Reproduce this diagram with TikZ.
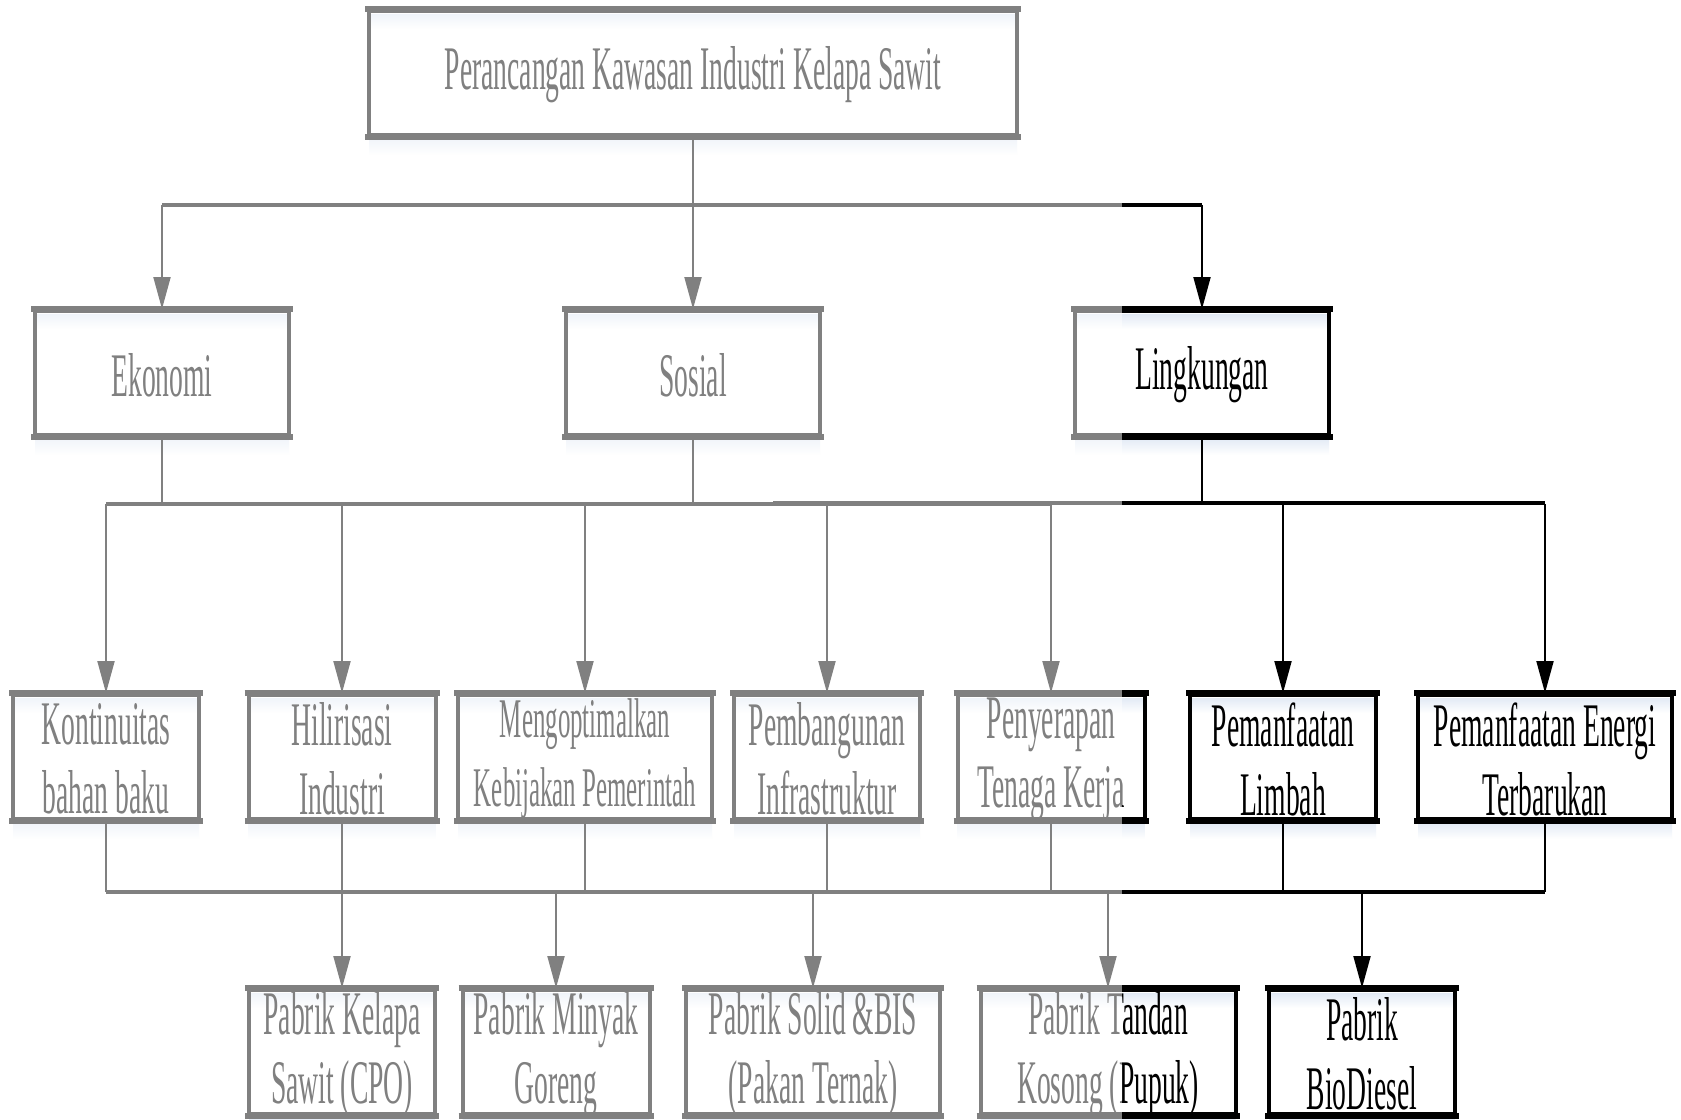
\documentclass[tikz,border=0pt]{standalone}
\usepackage{fontspec}
\setmainfont{Liberation Serif}[FakeStretch=0.445]
\usetikzlibrary{arrows.meta}
\definecolor{shd}{RGB}{226,234,245}

% #1 name, #2 centre x, #3 centre y, #4 width (px), #5 text style, #6 text
\newcommand\bx[6]{%
  \shade[top color=shd, bottom color=white]
    ({#2-#4/2+2},{#3-59}) rectangle ({#2+#4/2-2},{#3-44});
  \shade[top color=shd, bottom color=white]
    ({#2-#4/2},{#3+65}) rectangle ({#2+#4/2},{#3+82});
  \node[box, minimum width={#4*0.5pt}] (#1) at (#2,#3) {};
  \draw[hedge] ([xshift=-1pt]#1.north west) -- ([xshift=1pt]#1.north east);
  \draw[hedge] ([xshift=-1pt]#1.south west) -- ([xshift=1pt]#1.south east);
  \node[boxtext, #5] (#1-t) at (#2,{#3+2}) {#6};
}

\begin{document}
\begin{tikzpicture}[x=0.5pt, y=-0.5pt,
  box/.style={draw=black, line width=2pt, minimum height=62pt, inner sep=0pt},
  boxtext/.style={inner sep=0pt, align=center, text=black,
    font=\fontsize{31pt}{34.5pt}\selectfont},
  small/.style={font=\fontsize{28pt}{34.5pt}\selectfont},
  hedge/.style={draw=black, line width=3.25pt},
  vln/.style={draw=black, line width=1pt},
  hln/.style={draw=black, line width=2pt},
  arr/.style={vln, -{Triangle[length=16pt, width=8.5pt]}},
]
\useasboundingbox (0,0) rectangle (1681,1119);
\fill[white] (0,0) rectangle (1681,1119);

% boxes
\bx{top}{693}{73}{648}{}{Perancangan Kawasan Industri Kelapa Sawit}

\bx{eko}{162}{373}{254}{}{Ekonomi}
\bx{sos}{693}{373}{254}{}{Sosial}
\bx{ling}{1202}{373}{254}{}{Lingkungan}

\bx{kon}{106}{757}{186}{}{Kontinuitas\\bahan baku}
\bx{hil}{342}{757}{187}{}{Hilirisasi\\Industri}
\bx{meng}{585}{757}{254}{small}{Mengoptimalkan\\Kebijakan Pemerintah}
\bx{pemb}{827}{757}{186}{}{Pembangunan\\Infrastruktur}
\bx{peny}{1051}{757}{187}{}{Penyerapan\\Tenaga Kerja}
\bx{limb}{1283}{757}{186}{}{Pemanfaatan\\Limbah}
\bx{ener}{1545}{757}{254}{}{Pemanfaatan Energi\\Terbarukan}

\bx{kel}{342}{1052}{186}{}{Pabrik Kelapa\\Sawit (CPO)}
\bx{miny}{556}{1052}{187}{}{Pabrik Minyak\\Goreng}
\bx{solid}{813}{1052}{254}{}{Pabrik Solid \&BIS\\(Pakan Ternak)}
\bx{tand}{1108}{1052}{255}{}{Pabrik Tandan\\Kosong (Pupuk)}
\bx{bio}{1362}{1052}{186}{}{Pabrik\\BioDiesel}

% bus lines
\coordinate (j0) at (0,205);
\coordinate (b1) at (0,504);
\coordinate (b1s) at (773,503);
\coordinate (b2) at (0,892);

% top box to the three aspects
\draw[vln] (top.south) -- (top.south |- j0);
\draw[hln] (eko.north |- j0) -- (ling.north |- j0);
\foreach \n in {eko,sos,ling}
  \draw[arr] (\n.north |- j0) -- (\n.north);

% aspects to the criteria
\foreach \n in {eko,sos,ling}
  \draw[vln] (\n.south) -- (\n.south |- b1);
\draw[hln] (kon.north |- b1) -- (peny.north |- b1);
\draw[hln, line width=1.6pt] (b1s) -- (ener.north |- b1s);
\foreach \n in {kon,hil,meng,pemb,peny,limb,ener}
  \draw[arr] (\n.north |- b1) -- (\n.north);

% criteria to the factories
\foreach \n in {kon,hil,meng,pemb,peny,limb,ener}
  \draw[vln] (\n.south) -- (\n.south |- b2);
\draw[hln] (kon.south |- b2) -- (ener.south |- b2);
\foreach \n in {kel,miny,solid,tand,bio}
  \draw[arr] (\n.north |- b2) -- (\n.north);

% lighter left-hand part of the sheet
\fill[white, opacity=0.5] (0,0) rectangle (1122,1119);
\end{tikzpicture}
\end{document}
